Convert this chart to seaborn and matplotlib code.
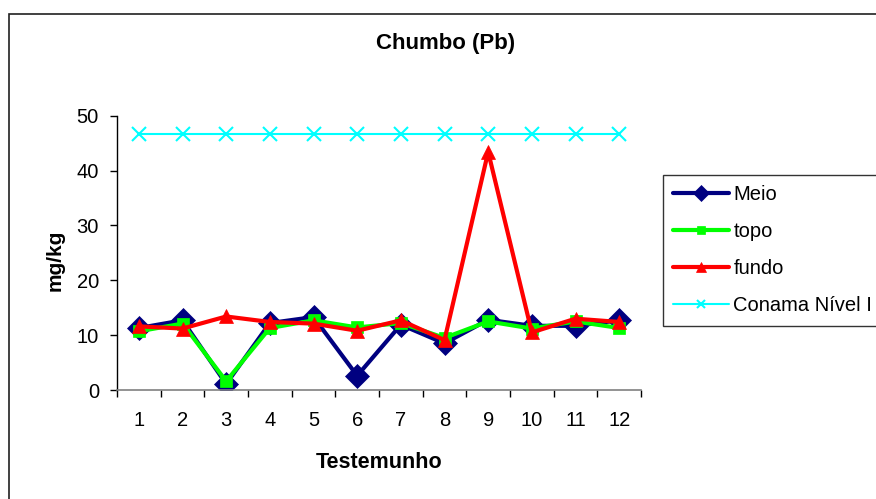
import numpy as np
import pandas as pd
import matplotlib
matplotlib.use("Agg")
import matplotlib.pyplot as plt
import matplotlib.patches as mpatches
import seaborn as sns

# values (mg/kg)
testemunho = list(range(1, 13))
meio = [11.3, 12.7, 1.1, 12.2, 13.3, 2.6, 11.9, 8.5, 12.8, 11.7, 11.7, 12.7]
topo = [10.7, 12.1, 1.6, 11.3, 12.7, 11.4, 12.2, 9.5, 12.5, 11.2, 12.5, 11.3]
fundo = [11.6, 11.2, 13.4, 12.4, 12.1, 10.8, 12.7, 9.1, 43.4, 10.5, 13.0, 12.4]
conama = [46.7] * 12

y_ticks = [0, 10, 20, 30, 40, 50]

data = pd.DataFrame({
    'testemunho': testemunho,
    'Meio': meio,
    'topo': topo,
    'fundo': fundo,
    'Conama Nível I': conama,
})

sns.set_style('white')
plt.rcParams['font.family'] = ['Liberation Sans', 'DejaVu Sans']
plt.rcParams['text.color'] = 'black'
plt.rcParams['xtick.color'] = 'black'
plt.rcParams['ytick.color'] = 'black'
plt.rcParams['legend.labelcolor'] = 'black'

fig = plt.figure(figsize=(8.76, 4.99), dpi=100)
ax = fig.add_axes([117 / 876, 1 - 390 / 499, 524 / 876, 274.3 / 499])

series = [
    ('Meio', '#000080', 'D', 12.5, 3.0),
    ('topo', '#00FF00', 's', 9.0, 3.0),
    ('fundo', '#FF0000', '^', 10.5, 3.0),
    ('Conama Nível I', '#00FFFF', 'x', 9.5, 1.5),
]
for name, color, marker, msize, lw in series:
    sns.lineplot(data=data, x='testemunho', y=name, ax=ax, color=color,
                 marker=marker, markersize=msize, linewidth=lw,
                 markeredgecolor=color, markeredgewidth=1.5 if marker == 'x' else 0.5,
                 label=name)

ax.set_xlim(0.5, 12.5)
ax.set_ylim(0, 50)
ax.set_yticks(y_ticks)
ax.set_xticks(np.arange(0.5, 13, 1))
ax.set_xticklabels([])
ax.set_xticks(testemunho, minor=True)
ax.set_xticklabels([str(t) for t in testemunho], minor=True)
ax.tick_params(axis='x', which='major', direction='out', length=5, width=1,
               color='black', bottom=True)
ax.tick_params(axis='x', which='minor', length=0, pad=15, labelsize=14.5,
               labelcolor='black')
ax.tick_params(axis='y', direction='out', length=5, width=1, color='black',
               left=True, pad=8, labelsize=14.5, labelcolor='black')
ax.set_xlabel('')
ax.set_ylabel('')
ax.grid(False)
for side in ['top', 'right']:
    ax.spines[side].set_visible(False)
ax.spines['left'].set_color('black')
ax.spines['bottom'].set_color('#808080')
ax.spines['left'].set_linewidth(1)
ax.spines['bottom'].set_linewidth(1.2)

ax.legend_.remove()
handles, labels = ax.get_legend_handles_labels()
leg = fig.legend(handles, labels, loc='upper left',
                 bbox_to_anchor=(663 / 876, 1 - 175 / 499),
                 bbox_transform=fig.transFigure, fontsize=14.5,
                 frameon=True, fancybox=False, shadow=False,
                 borderpad=0.5, labelspacing=0.9, handlelength=2.8,
                 handletextpad=0.2, borderaxespad=0, markerscale=0.65)
leg.get_frame().set_edgecolor('black')
leg.get_frame().set_linewidth(1)

fig.text(446 / 876, 1 - 44 / 499, 'Chumbo (Pb)', ha='center', va='center',
         fontsize=16, fontweight='bold')
fig.text(379 / 876, 1 - 462 / 499, 'Testemunho', ha='center', va='center',
         fontsize=15.5, fontweight='bold')
fig.text(55 / 876, 1 - 260 / 499, 'mg/kg', ha='center', va='center',
         fontsize=15, fontweight='bold', rotation=90)

border = mpatches.Rectangle((9 / 876, -0.2), 1.2, 1.2 - 14 / 499,
                            transform=fig.transFigure, fill=False,
                            edgecolor='#202020', linewidth=1.2)
fig.add_artist(border)

fig.savefig('out.png', dpi=100)
